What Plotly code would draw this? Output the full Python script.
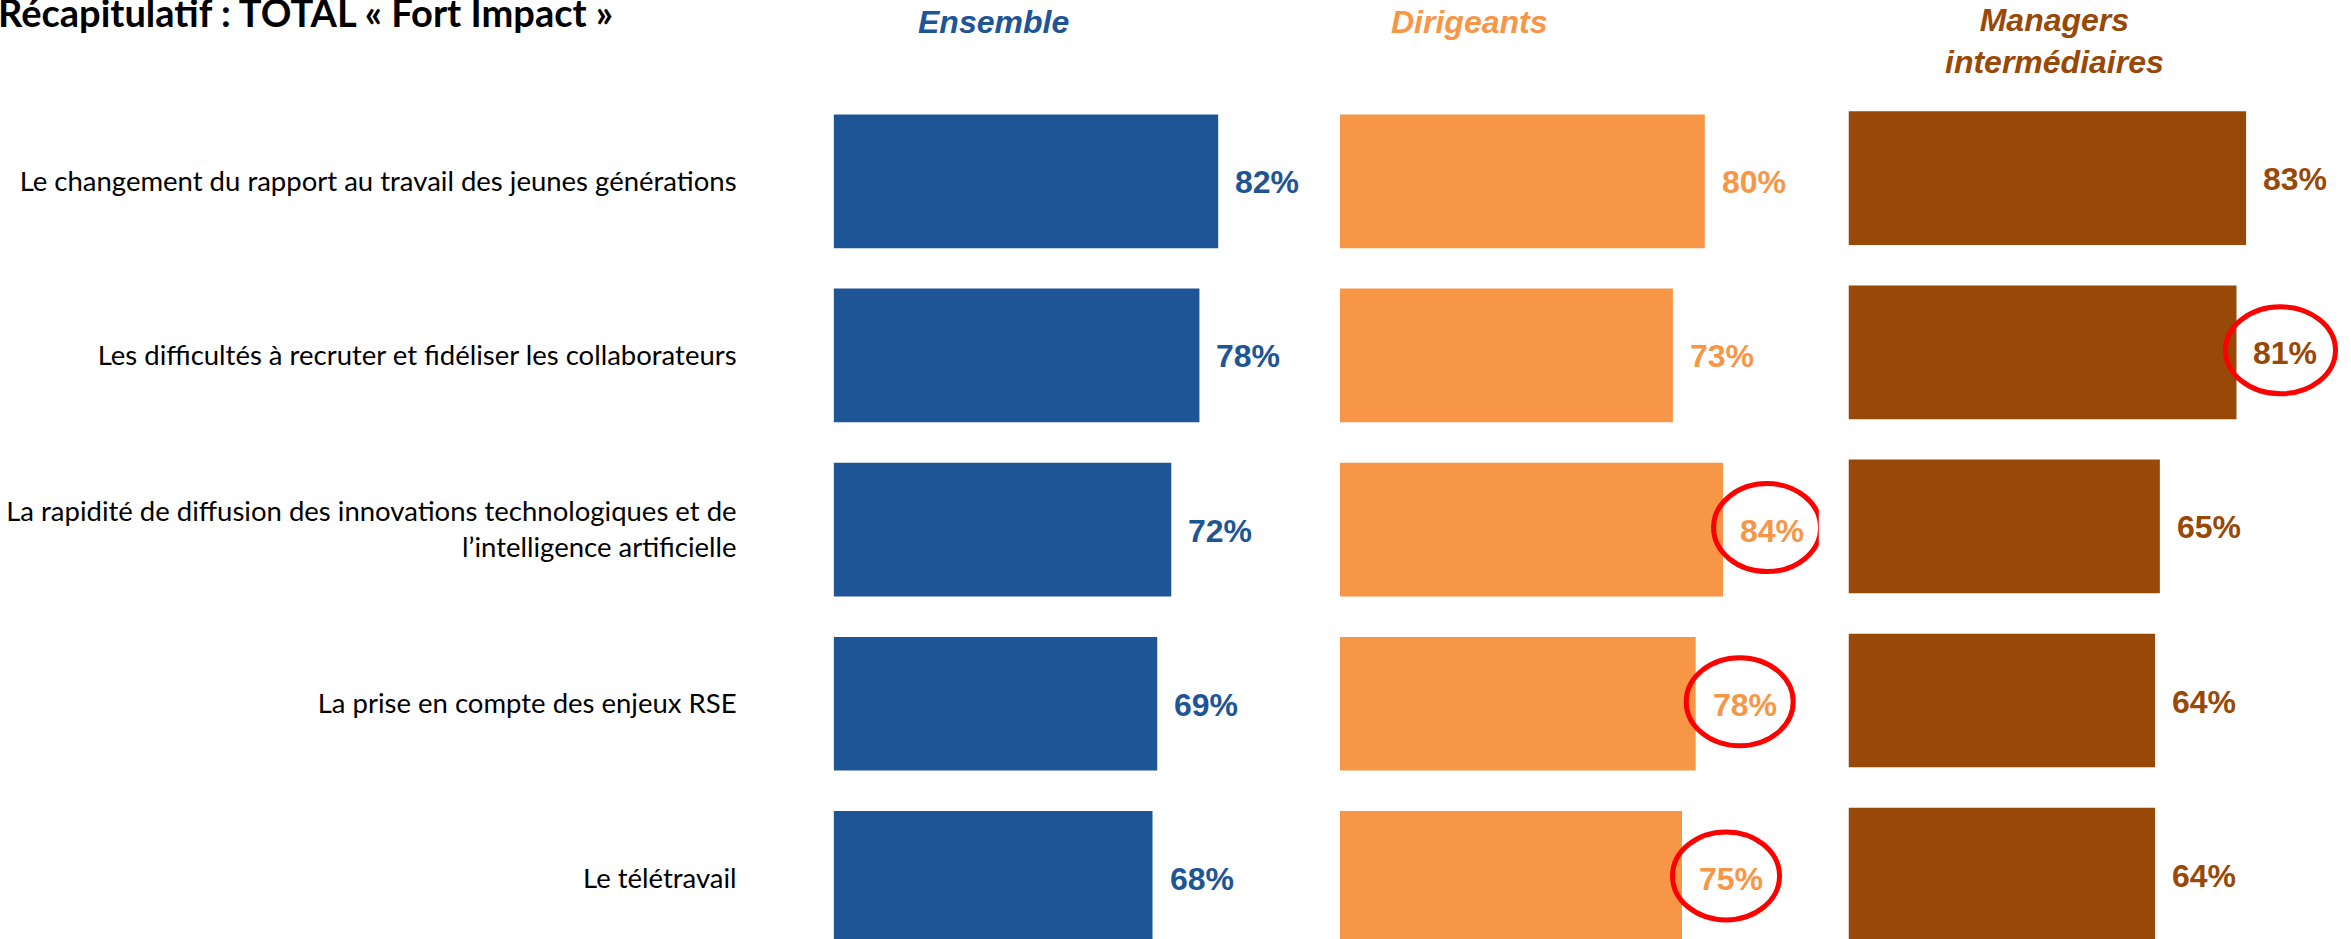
import plotly.graph_objects as go

# ---- data -------------------------------------------------------------
categories = [
    "Le changement du rapport au travail des jeunes générations",
    "Les difficultés à recruter et fidéliser les collaborateurs",
    "La rapidité de diffusion des innovations technologiques et de<br>l’intelligence artificielle",
    "La prise en compte des enjeux RSE",
    "Le télétravail",
]
groups = ["Ensemble", "Dirigeants", "Managers<br>intermédiaires"]
ensemble = [82, 78, 72, 69, 68]
dirigeants = [80, 73, 84, 78, 75]
managers = [83, 81, 65, 64, 64]
# (group index, row index) of the values ringed in red
highlighted = [(2, 1), (1, 2), (1, 3), (1, 4)]
title = "Récapitulatif : TOTAL « Fort Impact »"

# ---- styling ----------------------------------------------------------
W, H = 2351, 939
colors = ["#1E5596", "#F79647", "#984807"]
series = [ensemble, dirigeants, managers]
# left pixel edge, pixels per percentage point and axis span of each panel
panel_left = [833.6, 1340, 1848.5]
panel_scale = [4.69, 4.56, 4.79]
panel_max = [100, 105, (W - 1848.5) / 4.79]
# first-row centre (px from top) and row pitch of each panel
row_top = [181.3, 181.3, 178.2]
row_step = [174.15, 174.15, 174.1]
bar_frac = 0.768
label_gap = 15
header_x = [993, 1469, 2054]

xaxes = ["x", "x2", "x3"]
yaxes = ["y", "y", "y2"]

fig = go.Figure()
n = len(categories)
rows = list(range(n))

for g, vals in enumerate(series):
    fig.add_trace(go.Bar(
        x=vals, y=rows, orientation="h",
        marker=dict(color=colors[g], line=dict(width=0)),
        width=bar_frac, xaxis=xaxes[g], yaxis=yaxes[g],
        showlegend=False, hoverinfo="skip",
    ))
    for i, v in enumerate(vals):
        fig.add_annotation(
            x=v, y=i, xref=xaxes[g], yref=yaxes[g],
            text=f"<b>{v}%</b>", showarrow=False,
            xanchor="left", yanchor="middle", xshift=label_gap, yshift=-1,
            font=dict(family="Liberation Sans, Arial", size=32, color=colors[g]),
        )

# red rings around the highlighted values
for g, i in highlighted:
    v = series[g][i]
    w = 110 if g == 2 else 107
    h = 87 if g == 2 else 88
    cx = label_gap + 32 - 3
    fig.add_shape(
        type="circle", xref=xaxes[g], yref=yaxes[g],
        xsizemode="pixel", ysizemode="pixel", xanchor=v, yanchor=i,
        x0=cx - w / 2, x1=cx + w / 2, y0=-h / 2 + 2, y1=h / 2 + 2,
        line=dict(color="#FF0000", width=5), fillcolor="rgba(0,0,0,0)",
        layer="above",
    )

# panel headers
for g, name in enumerate(groups):
    two_lines = "<br>" in name
    fig.add_annotation(
        x=header_x[g] / W, y=1 - (41 if two_lines else 22) / H,
        xref="paper", yref="paper", text=f"<b><i>{name}</i></b>",
        showarrow=False, xanchor="center", yanchor="middle",
        font=dict(family="Liberation Sans, Arial", size=32, color=colors[g]),
    )

fig.add_annotation(
    x=-4 / W, y=1 - 12 / H, xref="paper", yref="paper",
    text=f"<b>{title}</b>", showarrow=False, xanchor="left", yanchor="middle",
    font=dict(family="Lato", size=38, color="#000000"),
)

layout_axes = {}
for g in range(3):
    key = "xaxis" if g == 0 else f"xaxis{g + 1}"
    layout_axes[key] = dict(
        domain=[panel_left[g] / W,
                min(1.0, (panel_left[g] + panel_max[g] * panel_scale[g]) / W)],
        range=[0, panel_max[g]], anchor=yaxes[g], showgrid=False,
        zeroline=False, showline=False, showticklabels=False, ticks="",
        fixedrange=True,
    )


def yrange(top, step):
    a = -top / step
    return [a + H / step, a]


layout_axes["yaxis"] = dict(
    domain=[0, 1], range=yrange(row_top[0], row_step[0]), anchor="x",
    tickmode="array", tickvals=rows, ticktext=categories,
    showgrid=False, zeroline=False, showline=False, ticks="",
    ticklabelstandoff=96, automargin=False,
    tickfont=dict(family="Lato", size=27.5, color="#000000"),
)
layout_axes["yaxis2"] = dict(
    domain=[0, 1], range=yrange(row_top[2], row_step[2]), anchor="x3",
    showgrid=False, zeroline=False, showline=False, showticklabels=False,
    ticks="",
)

fig.update_layout(
    width=W, height=H, margin=dict(l=0, r=0, t=0, b=0),
    paper_bgcolor="white", plot_bgcolor="white",
    barmode="overlay", **layout_axes,
)

fig.write_html("out.html")
